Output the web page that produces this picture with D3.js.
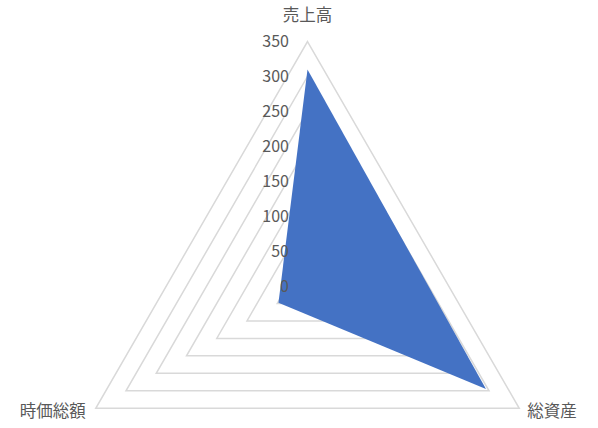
<!DOCTYPE html>
<html>
<head>
<meta charset="utf-8">
<script src="https://cdn.jsdelivr.net/npm/d3@7"></script>
<style>
  body { margin: 0; background: #fff; }
  svg text { font-family: "Noto Sans CJK JP", "Noto Sans", sans-serif; fill: #595959; }
</style>
</head>
<body>
<div id="chart"></div>
<script>
// 軸と値
const axes = ['売上高', '総資産', '時価総額'];
const values = [310, 295, 48];
const ticks = [0, 50, 100, 150, 200, 250, 300, 350];

const width = 598;
const height = 428;
const cx = 307.5;
const cy = 286;
const R = 244.5;

const rScale = d3.scaleLinear().domain([0, 350]).range([0, R]);
// angle of each axis, clockwise from top
const angle = d3.scalePoint().domain(axes).range([0, 2 * Math.PI * 2 / 3]);

function point(axis, v) {
    const a = angle(axis);
    return [cx + rScale(v) * Math.sin(a), cy - rScale(v) * Math.cos(a)];
}

const svg = d3.select('#chart')
    .append('svg')
    .attr('width', width)
    .attr('height', height);

// grid rings
svg.append('g').attr('class', 'grid')
    .selectAll('polygon')
    .data(ticks.filter(t => t > 0))
    .join('polygon')
    .attr('points', t => axes.map(a => point(a, t).join(',')).join(' '))
    .attr('fill', 'none')
    .attr('stroke', '#d9d9d9')
    .attr('stroke-width', 1.5);

// series
svg.append('polygon')
    .attr('points', axes.map((a, i) => point(a, values[i]).join(',')).join(' '))
    .attr('fill', '#4472c4');

// radial tick labels
svg.append('g').attr('class', 'ticks')
    .selectAll('text')
    .data(ticks)
    .join('text')
    .attr('x', cx - 18.5)
    .attr('y', t => cy - rScale(t))
    .attr('dy', '0.35em')
    .attr('text-anchor', 'end')
    .style('font-size', '16px')
    .text(t => t);

// axis labels
const labelPos = {
    '売上高': { dx: 0, dy: -26, anchor: 'middle' },
    '総資産': { dx: 8, dy: 3, anchor: 'start' },
    '時価総額': { dx: -10, dy: 3, anchor: 'end' }
};

svg.append('g').attr('class', 'labels')
    .selectAll('text')
    .data(axes)
    .join('text')
    .attr('x', a => point(a, 350)[0] + labelPos[a].dx)
    .attr('y', a => point(a, 350)[1] + labelPos[a].dy)
    .attr('dy', '0.35em')
    .attr('text-anchor', a => labelPos[a].anchor)
    .style('font-size', '16.5px')
    .text(a => a);
</script>
</body>
</html>
